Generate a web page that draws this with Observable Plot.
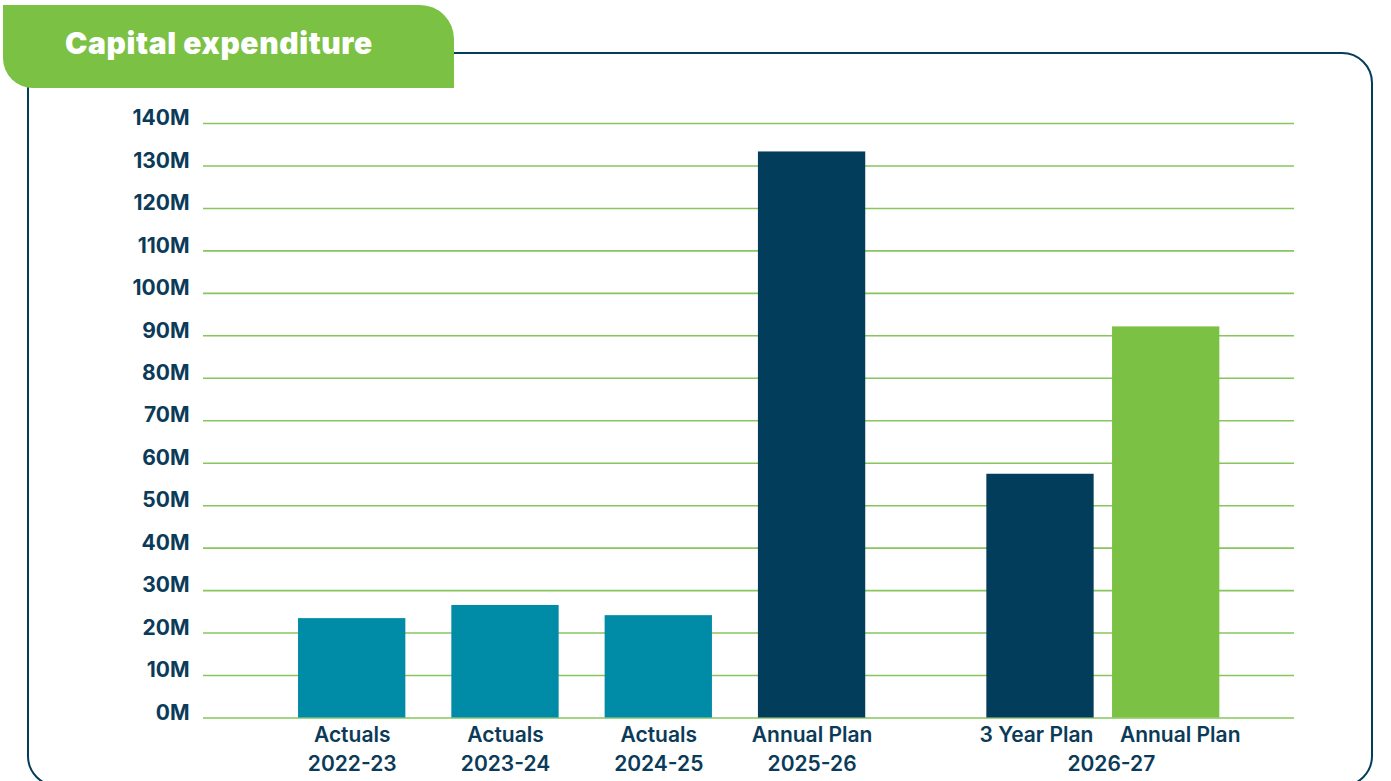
<!DOCTYPE html>
<html>
<head>
<meta charset="utf-8">
<script src="https://cdn.jsdelivr.net/npm/d3@7"></script>
<script src="https://cdn.jsdelivr.net/npm/@observablehq/plot@0.6"></script>
<style>
  html, body { margin: 0; padding: 0; background: #ffffff; }
  #wrap { position: relative; width: 1391px; height: 781px; overflow: hidden; font-family: Inter, "Open Sans", sans-serif; }
  #frame { position: absolute; left: 27px; top: 52px; width: 1346px; height: 735px; border: 2.8px solid #023d5b; border-radius: 31px; box-sizing: border-box; }
  #tab { position: absolute; left: 3px; top: 5px; width: 451px; height: 83px; background: #7bc144; border-radius: 0 34px 0 30px; }
  #tab span { position: absolute; left: 62px; top: 23px; color: #ffffff; font-family: Inter, sans-serif; font-weight: 900; font-size: 30px; letter-spacing: 0.6px; line-height: 1; }
  #chart { position: absolute; left: 0; top: 0; }
</style>
</head>
<body>
<div id="wrap">
  <div id="frame"></div>
  <div id="chart"></div>
  <div id="tab"><span>Capital expenditure</span></div>
</div>
<script>
// ---- data ----
const labels = ["Actuals", "Actuals", "Actuals", "Annual Plan", "3 Year Plan", "Annual Plan"];
const years = ["2022-23", "2023-24", "2024-25", "2025-26", "2026-27", "2026-27"];
const series = ["Actual", "Actual", "Actual", "Plan", "Plan", "Latest"];
const values = [23.4, 26.5, 24.1, 133.3, 57.4, 92.1]; // millions
const yTicks = [0, 10, 20, 30, 40, 50, 60, 70, 80, 90, 100, 110, 120, 130, 140];
const seriesNames = ["Actual", "Plan", "Latest"];
const seriesColors = ["#008ba6", "#023d5b", "#7bc144"];

// ---- layout helpers (slots on a linear x scale) ----
const groups = Array.from(new Set(years));
const GROUP_EXTRA = 0.9, SUB_STEP = 0.82, HALF = 0.35;
const groupSize = g => years.filter(y => y === g).length;
const groupPos = new Map(groups.map((g, i) => [g, i + (groupSize(g) > 1 ? GROUP_EXTRA : 0)]));
const data = labels.map((l, i) => {
  const g = years[i];
  const members = years.map((y, k) => y === g ? k : -1).filter(k => k >= 0);
  const j = members.indexOf(i), n = members.length;
  return { label: l, year: g, series: series[i], value: values[i], multi: n > 1, j,
           pos: groupPos.get(g) + (j - (n - 1) / 2) * SUB_STEP };
});
const yearData = groups.map(g => ({ year: g, pos: groupPos.get(g), multi: groupSize(g) > 1 }));

const navy = "#0b3b58";
const labelStyle = { frameAnchor: "bottom", lineAnchor: "middle", fontSize: 21, fontWeight: 600, fill: navy };
const chart = Plot.plot({
  width: 1391,
  height: 781,
  marginLeft: 203,
  marginRight: 97,
  marginTop: 123,
  marginBottom: 63.5,
  style: { background: "transparent", fontFamily: "Inter, sans-serif" },
  x: { type: "linear", domain: [-0.97, 6.147], axis: null },
  y: { domain: [0, 140], axis: null },
  color: { domain: seriesNames, range: seriesColors },
  marks: [
    Plot.ruleY(yTicks, { stroke: "#86c65c", strokeWidth: 1.6 }),
    Plot.rect(data, { x1: d => d.pos - HALF, x2: d => d.pos + HALF, y1: 0, y2: "value", fill: "series" }),
    Plot.text(yTicks, { y: d => d, text: d => d + "M", frameAnchor: "left", textAnchor: "end", lineAnchor: "middle",
      dx: -14, dy: -5, fontSize: 21, fontWeight: 700, fill: navy }),
    // first label line
    Plot.text(data.filter(d => !d.multi), { x: "pos", text: "label", dy: 17, ...labelStyle }),
    Plot.text(data.filter(d => d.multi && d.j === 0), { x: "pos", text: "label", dy: 17, dx: -4, ...labelStyle }),
    Plot.text(data.filter(d => d.multi && d.j > 0), { x: "pos", text: "label", dy: 17, dx: 14, ...labelStyle }),
    // second label line (years)
    Plot.text(yearData.filter(d => !d.multi), { x: "pos", text: "year", dy: 46, ...labelStyle }),
    Plot.text(yearData.filter(d => d.multi), { x: "pos", text: "year", dy: 46, dx: 8, ...labelStyle })
  ]
});
document.getElementById("chart").appendChild(chart);
</script>
</body>
</html>
